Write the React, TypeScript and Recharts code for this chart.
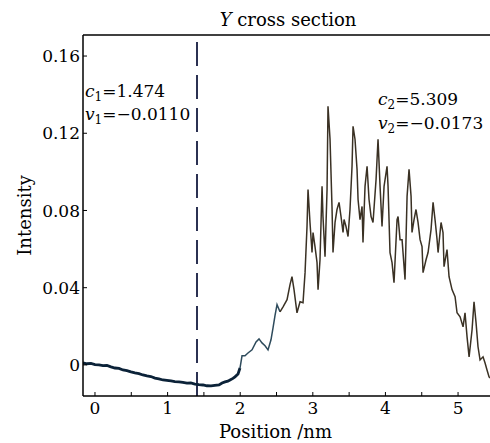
import React from "react";
import { LineChart, Line, XAxis, YAxis, ReferenceLine } from "recharts";

const FONT = "'DejaVu Serif', serif";

// axis ticks and ranges
const xTicks = [0, 0.5, 1, 1.5, 2, 2.5, 3, 3.5, 4, 4.5, 5];
const yTicks = [0, 0.04, 0.08, 0.12, 0.16];
const xDomain = [-0.165, 5.44];
const yDomain = [-0.0161, 0.1709];
const markerX = 1.405;

// flat part of the profile (left of the structure)
const lowX = [
  -0.165, -0.11, -0.055, 0, 0.055, 0.11, 0.165, 0.22, 0.275, 0.33, 0.386, 0.44,
  0.496, 0.55, 0.606, 0.66, 0.716, 0.77, 0.826, 0.88, 0.937, 0.99, 1.047, 1.1,
  1.157, 1.21, 1.267, 1.32, 1.377, 1.43, 1.488, 1.54, 1.598, 1.65, 1.708, 1.75,
  1.791, 1.83, 1.86, 1.9, 1.928, 1.97, 1.997,
];
const lowY = [
  0.001, 0.0006, 0.0008, 0.0002, 0.0, -0.0004, -0.0003, -0.001, -0.0016, -0.0018,
  -0.0026, -0.003, -0.0036, -0.0041, -0.0045, -0.0052, -0.0057, -0.006, -0.0068,
  -0.0072, -0.0078, -0.008, -0.0083, -0.0086, -0.0088, -0.009, -0.0094, -0.0093,
  -0.0099, -0.0102, -0.0104, -0.0108, -0.0109, -0.0106, -0.0104, -0.0094, -0.0088,
  -0.0084, -0.0078, -0.007, -0.0062, -0.0047, -0.0016,
];

// rising edge
const midX = [
  1.997, 2.025, 2.066, 2.107, 2.163, 2.218, 2.259, 2.3, 2.342, 2.383, 2.424,
  2.452, 2.479, 2.507, 2.548,
];
const midY = [
  -0.0016, 0.0047, 0.0047, 0.0062, 0.0078, 0.0119, 0.0135, 0.0114, 0.0099,
  0.0078, 0.013, 0.0192, 0.0255, 0.0312, 0.0275,
];

// noisy peak region
const highX = [
  2.548, 2.59, 2.645, 2.686, 2.713, 2.741, 2.782, 2.824, 2.865, 2.893, 2.92,
  2.934, 2.961, 2.989, 3.003, 3.03, 3.058, 3.072, 3.099, 3.127, 3.14, 3.168,
  3.196, 3.209, 3.237, 3.264, 3.278, 3.306, 3.333, 3.361, 3.388, 3.416, 3.43,
  3.457, 3.485, 3.512, 3.54, 3.554, 3.581, 3.609, 3.623, 3.65, 3.678, 3.691,
  3.719, 3.747, 3.774, 3.802, 3.829, 3.871, 3.898, 3.926, 3.953, 3.981, 4.022,
  4.036, 4.063, 4.091, 4.118, 4.16, 4.174, 4.201, 4.229, 4.27, 4.298, 4.325,
  4.353, 4.366, 4.394, 4.421, 4.449, 4.477, 4.504, 4.518, 4.559, 4.587, 4.628,
  4.656, 4.683, 4.711, 4.725, 4.766, 4.793, 4.807, 4.848, 4.876, 4.917, 4.959,
  4.986, 5.028, 5.069, 5.096, 5.124, 5.152, 5.193, 5.22, 5.248, 5.275, 5.303,
  5.344, 5.372, 5.399, 5.427, 5.441,
];
const highY = [
  0.0275, 0.0301, 0.0338, 0.0416, 0.0457, 0.039, 0.027, 0.0327, 0.0322, 0.0478,
  0.0717, 0.0909, 0.0738, 0.0582, 0.0686, 0.0613, 0.053, 0.039, 0.0545, 0.0925,
  0.0769, 0.0561, 0.0909, 0.134, 0.1169, 0.0821, 0.0582, 0.0738, 0.0805, 0.0842,
  0.0769, 0.0686, 0.0753, 0.0717, 0.0665, 0.0805, 0.1029, 0.1236, 0.1169, 0.1013,
  0.0857, 0.0753, 0.0821, 0.0634, 0.0925, 0.1029, 0.0857, 0.0769, 0.0738, 0.0961,
  0.1169, 0.0925, 0.0717, 0.0925, 0.1029, 0.0925, 0.0582, 0.053, 0.0426, 0.0753,
  0.0769, 0.0649, 0.0649, 0.0442, 0.0873, 0.1013, 0.0873, 0.0686, 0.0753, 0.0805,
  0.0738, 0.0649, 0.0613, 0.0478, 0.0545, 0.0582, 0.0701, 0.0842, 0.0753, 0.0649,
  0.0582, 0.0738, 0.0686, 0.0509, 0.0597, 0.0457, 0.039, 0.0353, 0.027, 0.0249,
  0.0197, 0.027, 0.0145, 0.0042, 0.0182, 0.0327, 0.0218, 0.0094, 0.0026, 0.0042,
  0.001, -0.0026, -0.0062, -0.0068,
];

const zip = (xs: number[], ys: number[]) => xs.map((x, i) => ({ x, y: ys[i] }));

const lowData = zip(lowX, lowY);
const midData = zip(midX, midY);
const highData = zip(highX, highY);

const tickStyle = { fontSize: 17, fill: "#000", fontFamily: FONT };
const labelStyle = { fontSize: 18, fill: "#000", fontFamily: FONT };

function Annotations() {
  return (
    <svg
      width={490}
      height={443}
      style={{ position: "absolute", left: 0, top: 0, pointerEvents: "none" }}
      fontFamily={FONT}
      fontSize={17}
      fill="#000"
    >
      <text x={288} y={26} textAnchor="middle" fontSize={18}>
        <tspan fontStyle="italic">Y</tspan> cross section
      </text>
      <text x={85} y={97}>
        <tspan fontStyle="italic">c</tspan>
        <tspan fontSize={12} dy={4}>1</tspan>
        <tspan dy={-4}>=1.474</tspan>
      </text>
      <text x={85} y={120}>
        <tspan fontStyle="italic">v</tspan>
        <tspan fontSize={12} dy={4}>1</tspan>
        <tspan dy={-4}>=−0.0110</tspan>
      </text>
      <text x={378} y={105}>
        <tspan fontStyle="italic">c</tspan>
        <tspan fontSize={12} dy={4}>2</tspan>
        <tspan dy={-4}>=5.309</tspan>
      </text>
      <text x={378} y={129}>
        <tspan fontStyle="italic">v</tspan>
        <tspan fontSize={12} dy={4}>2</tspan>
        <tspan dy={-4}>=−0.0173</tspan>
      </text>
    </svg>
  );
}

export default function App() {
  return (
    <div style={{ position: "absolute", left: 0, top: 0, width: 490, height: 443, background: "#fff" }}>
      <LineChart
        width={490}
        height={443}
        margin={{ top: 35, right: 0, left: 0, bottom: 0 }}
      >
        <XAxis
          type="number"
          dataKey="x"
          domain={xDomain}
          ticks={xTicks}
          allowDataOverflow
          height={47}
          tickSize={-4}
          tickMargin={10}
          tick={tickStyle}
          tickFormatter={(v: number) => (Number.isInteger(v) ? String(v) : "")}
          axisLine={{ stroke: "#000", strokeWidth: 1.5 }}
          tickLine={{ stroke: "#000" }}
          label={{
            value: "Position /nm",
            position: "insideBottom",
            offset: 5,
            dx: -11,
            style: labelStyle,
          }}
        />
        <YAxis
          type="number"
          domain={yDomain}
          ticks={yTicks}
          allowDataOverflow
          width={83}
          tickSize={-4}
          tickMargin={7}
          tick={tickStyle}
          tickFormatter={(v: number) => (v === 0 ? "0" : v.toFixed(2))}
          axisLine={{ stroke: "#000", strokeWidth: 1.5 }}
          tickLine={{ stroke: "#000" }}
          label={{
            value: "Intensity",
            angle: -90,
            position: "center",
            dx: -17,
            style: { ...labelStyle, textAnchor: "middle" },
          }}
        />
        <ReferenceLine y={yDomain[1]} stroke="#000" strokeWidth={1.5} />
        <ReferenceLine
          x={markerX}
          stroke="#2b3152"
          strokeWidth={2}
          strokeDasharray="24 9"
        />
        <Line
          data={lowData}
          dataKey="y"
          type="linear"
          stroke="#0b2238"
          strokeWidth={2.8}
          dot={false}
          isAnimationActive={false}
        />
        <Line
          data={midData}
          dataKey="y"
          type="linear"
          stroke="#2e4b5c"
          strokeWidth={1.5}
          dot={false}
          isAnimationActive={false}
        />
        <Line
          data={highData}
          dataKey="y"
          type="linear"
          stroke="#3a3124"
          strokeWidth={1.5}
          dot={false}
          isAnimationActive={false}
        />
      </LineChart>
      <Annotations />
    </div>
  );
}
